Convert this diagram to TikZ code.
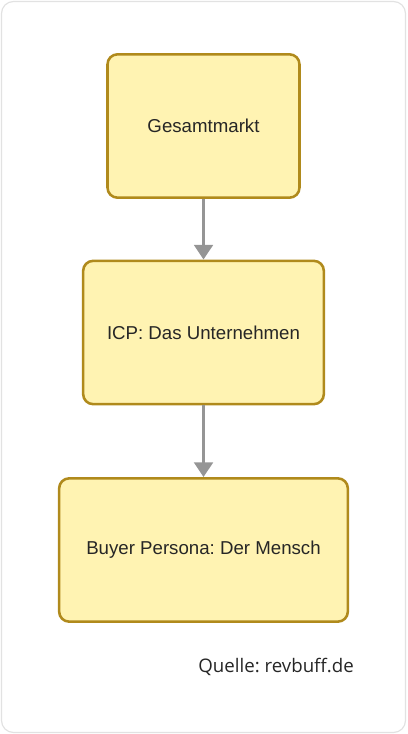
\documentclass[tikz,border=0pt]{standalone}
\usepackage{fontspec}
\setmainfont{Liberation Sans}
\newfontfamily\srcfont{Open Sans}
\usetikzlibrary{arrows.meta}
\frenchspacing
\definecolor{boxfill}{HTML}{FFF3B2}
\definecolor{boxline}{HTML}{B08A1C}
\definecolor{arrowgray}{HTML}{959595}
\definecolor{framegray}{HTML}{E2E2E2}
\definecolor{textgray}{HTML}{262626}
\begin{document}
\begin{tikzpicture}[x=0.75pt,y=-0.75pt,level/.style={draw=boxline,fill=boxfill,line width=1.9pt,rounded corners=7.5pt,minimum height=107.5pt,font=\fontsize{14}{16}\selectfont,text=textgray},flow/.style={draw=arrowgray,line width=2.2pt,-{Triangle[width=14pt,length=11pt]}}]
\def\cx{203.5};
\useasboundingbox (0,0) rectangle (407,734);
\draw[framegray,line width=0.9pt,rounded corners=9pt] (1.5,1.5) rectangle (405.5,732.5);

\node[level,minimum width=144pt] (markt) at (\cx,126) {Gesamtmarkt};
\node[level,minimum width=180.5pt] (icp) at (\cx,332.5) {ICP: Das Unternehmen};
\node[level,minimum width=216.5pt] (persona) at (\cx,550) {Buyer Persona: Der Mensch};
\draw[flow] (markt.south) -- (icp.north);
\draw[flow] (icp.south) -- (persona.north);

\node[anchor=east,inner sep=0pt,text=textgray,font=\srcfont\fontsize{14}{16}\selectfont] (quelle) at (354,667) {Quelle: revbuff.de};
\end{tikzpicture}
\end{document}
